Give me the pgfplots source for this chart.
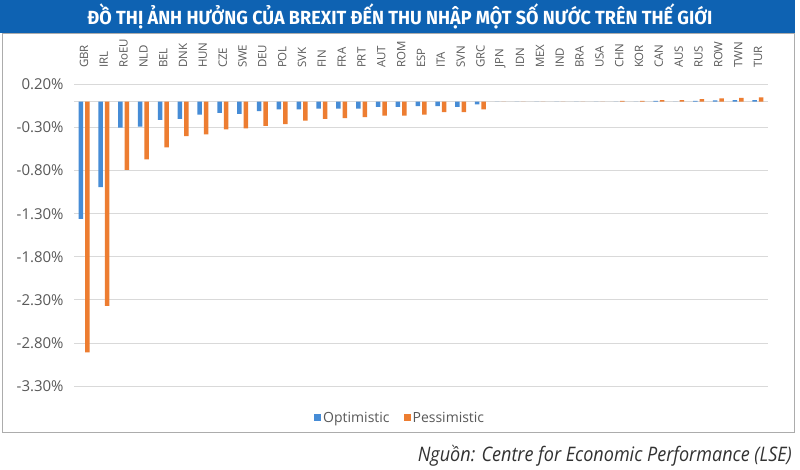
\documentclass[border=0pt]{standalone}
\usepackage{pgfplots}
\pgfplotsset{compat=1.18}
\usepackage{pgfplotstable}
\usepackage{graphicx}
\usepackage{fontspec}
\setmainfont{Open Sans}
\newfontfamily\titlefont{Fira Sans}
\definecolor{titleblue}{RGB}{14,98,178}
\definecolor{optblue}{RGB}{70,140,214}
\definecolor{pessorange}{RGB}{237,125,49}
\definecolor{tickgray}{RGB}{89,89,89}
\definecolor{gridgray}{RGB}{217,217,217}

\pgfplotstableread{
x name opt pess
0 GBR -1.36 -2.91
1 IRL -0.99 -2.37
2 RoEU -0.30 -0.79
3 NLD -0.29 -0.67
4 BEL -0.21 -0.53
5 DNK -0.20 -0.40
6 HUN -0.15 -0.38
7 CZE -0.13 -0.32
8 SWE -0.14 -0.31
9 DEU -0.11 -0.28
10 POL -0.09 -0.26
11 SVK -0.09 -0.22
12 FIN -0.08 -0.20
13 FRA -0.08 -0.19
14 PRT -0.08 -0.18
15 AUT -0.06 -0.16
16 ROM -0.06 -0.16
17 ESP -0.05 -0.15
18 ITA -0.05 -0.12
19 SVN -0.06 -0.12
20 GRC -0.03 -0.09
21 JPN 0 0
22 IDN 0 0
23 MEX 0 0
24 IND 0 0
25 BRA 0 0
26 USA 0 0
27 CHN 0 0.01
28 KOR 0 0.01
29 CAN 0.01 0.02
30 AUS 0 0.02
31 RUS 0.01 0.03
32 ROW 0.015 0.04
33 TWN 0.02 0.045
34 TUR 0.02 0.05
}\datatable

\begin{document}
\begin{tikzpicture}
\useasboundingbox (0,0) rectangle (800bp,470bp);
\fill[white] (0,0) rectangle (800bp,470bp);
\fill[titleblue] (0,437bp) rectangle (795bp,470bp);
\draw[gray!65, line width=0.8bp] (2bp,38bp) rectangle (794bp,437bp);
\node[text=white, inner sep=0] at (400bp,453.5bp)
  {\resizebox{625bp}{\height}{\titlefont\bfseries\fontsize{19bp}{22bp}\selectfont ĐỒ THỊ ẢNH HƯỞNG CỦA BREXIT ĐẾN THU NHẬP MỘT SỐ NƯỚC TRÊN THẾ GIỚI}};
\node[anchor=east, inner sep=0, text={rgb,255:red,50;green,50;blue,50}] at (792bp,14bp)
  {\resizebox{374bp}{\height}{\itshape\fontsize{20bp}{24bp}\selectfont Nguồn: Centre for Economic Performance (LSE)}};
\begin{axis}[
  at={(74.1bp,84bp)}, anchor=south west,
  scale only axis, width=693.8bp, height=301.5bp,
  xmin=-0.5, xmax=34.5, ymin=-3.3, ymax=0.2,
  ybar=2bp, bar width=4.5bp,
  axis line style={draw=none}, tick style={draw=none},
  major tick length=0pt,
  xtick=data,
  xticklabels from table={\datatable}{name},
  xticklabel pos=upper,
  xticklabel style={rotate=90, anchor=west, font=\fontsize{11.5bp}{13bp}\selectfont, text=tickgray},
  xticklabel shift=13bp,
  ytick={-3.3,-2.8,-2.3,-1.8,-1.3,-0.8,-0.3,0.2},
  yticklabels={-3.30\%,-2.80\%,-2.30\%,-1.80\%,-1.30\%,-0.80\%,-0.30\%,0.20\%},
  yticklabel style={font=\fontsize{15bp}{17bp}\selectfont, text=tickgray, xshift=-7bp},
  ymajorgrids, grid style={gridgray, line width=0.8bp},
  extra y ticks={0}, extra y tick labels={},
  extra y tick style={grid style={gridgray, line width=0.6bp}},
  legend style={at={(0.47,-0.106)}, anchor=center, draw=none, fill=none,
    legend columns=2, font=\fontsize{14bp}{16bp}\selectfont, text=tickgray,
    /tikz/every even column/.append style={column sep=12bp}},
  legend image code/.code={\fill[#1,draw=none] (0bp,-3.5bp) rectangle (7bp,3.5bp);},
  clip=false,
]
\addplot[fill=optblue, draw=none] table[x=x, y=opt] {\datatable};
\addplot[fill=pessorange, draw=none] table[x=x, y=pess] {\datatable};
\legend{Optimistic, Pessimistic}
\end{axis}
\end{tikzpicture}
\end{document}
